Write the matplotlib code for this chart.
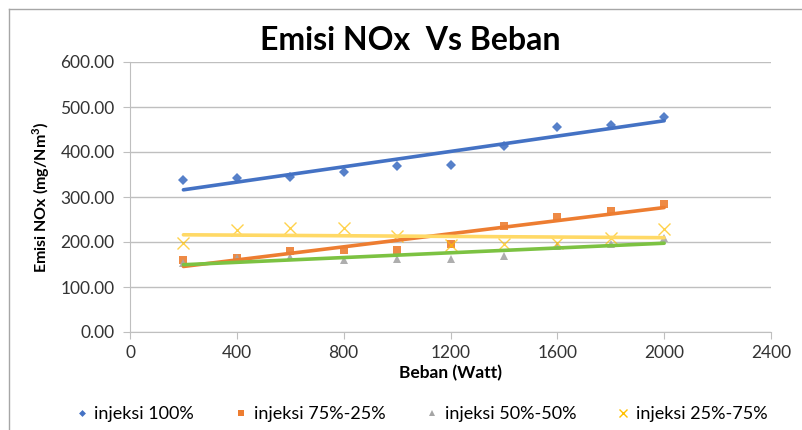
import numpy as np
import matplotlib
matplotlib.use("Agg")
import matplotlib.pyplot as plt
from matplotlib.lines import Line2D

plt.rcParams['font.family'] = ['Lato', 'DejaVu Sans']

beban = [200, 400, 600, 800, 1000, 1200, 1400, 1600, 1800, 2000]
inj_100 = [338, 342, 344, 355, 370, 372, 413, 456, 460, 477]
inj_75_25 = [160, 164, 181, 183, 183, 195, 235, 256, 270, 284]
inj_50_50 = [154, 164, 166, 160, 162, 162, 170, 191, 195, 210]
inj_25_75 = [197, 226, 232, 232, 214, 194, 196, 197, 210, 230]

labels = ['injeksi 100%', 'injeksi 75%-25%', 'injeksi 50%-50%', 'injeksi 25%-75%']
series = [inj_100, inj_75_25, inj_50_50, inj_25_75]
marker_colors = ['#4472C4', '#ED7D31', '#A5A5A5', '#FFC000']
trend_colors = ['#4472C4', '#ED7D31', '#7CC242', '#FFD966']
markers = ['D', 's', '^', 'x']
msizes = [5, 6, 6, 8]

W, H = 802, 430
fig = plt.figure(figsize=(W / 100, H / 100), dpi=100)
ax = fig.add_axes([130 / W, 1 - 332 / H, (771 - 130) / W, (332 - 62) / H])

x = np.array(beban, dtype=float)
for ys, mc, tc, m, ms in zip(series, marker_colors, trend_colors, markers, msizes):
    ax.plot(x, ys, linestyle='none', marker=m, color=mc, markersize=ms,
            markeredgewidth=1.0 if m == 'x' else 0, alpha=0.9 if m != 'x' else 0.7, zorder=3)
    k, b = np.polyfit(x, ys, 1)
    ax.plot([x[0], x[-1]], [k * x[0] + b, k * x[-1] + b], color=tc, lw=2.6,
            solid_capstyle='round', zorder=4)

ax.set_xlim(0, 2400)
ax.set_ylim(0, 600)
ax.set_xticks(np.arange(0, 2401, 400))
ax.set_yticks(np.arange(0, 601, 100))
ax.set_yticklabels([f"{v:.2f}" for v in np.arange(0, 601, 100)])
ax.grid(axis='y', color='#BFBFBF', lw=1)
ax.set_axisbelow(True)
for s in ['top', 'right']:
    ax.spines[s].set_visible(False)
for s in ['left', 'bottom']:
    ax.spines[s].set_color('#BFBFBF')
ax.tick_params(axis='both', colors='#BFBFBF', labelcolor='#333333', labelsize=12.5, length=5)
ax.tick_params(axis='y', pad=6)
ax.tick_params(axis='x', pad=4)

ax.set_xlabel('Beban (Watt)', fontsize=12.5, fontweight='bold', labelpad=3)
ax.set_ylabel('Emisi NOx (mg/Nm$^{\\mathregular{3}}$)', fontsize=11.5, fontweight='bold', labelpad=6)

fig.text(410 / W, 1 - 40 / H, 'Emisi NOx  Vs Beban', ha='center', va='center',
         fontsize=23, fontweight='bold')

handles = [Line2D([], [], linestyle='none', marker=m, color=c, markersize=ms * 0.7,
                  markeredgewidth=1.0 if m == 'x' else 0)
           for m, c, ms in zip(markers, marker_colors, msizes)]
fig.legend(handles, labels, loc='center', bbox_to_anchor=(421 / W, 1 - 414 / H),
           ncol=4, frameon=False, fontsize=13, handlelength=0.8, handletextpad=0.3,
           columnspacing=2.2)

# chart border (top and left visible)
fig.add_artist(Line2D([9 / W, 1], [1 - 9 / H, 1 - 9 / H], color='#A6A6A6', lw=1,
                      transform=fig.transFigure))
fig.add_artist(Line2D([9 / W, 9 / W], [1 - 9 / H, 0], color='#A6A6A6', lw=1,
                      transform=fig.transFigure))

fig.savefig('out.png', dpi=100)
